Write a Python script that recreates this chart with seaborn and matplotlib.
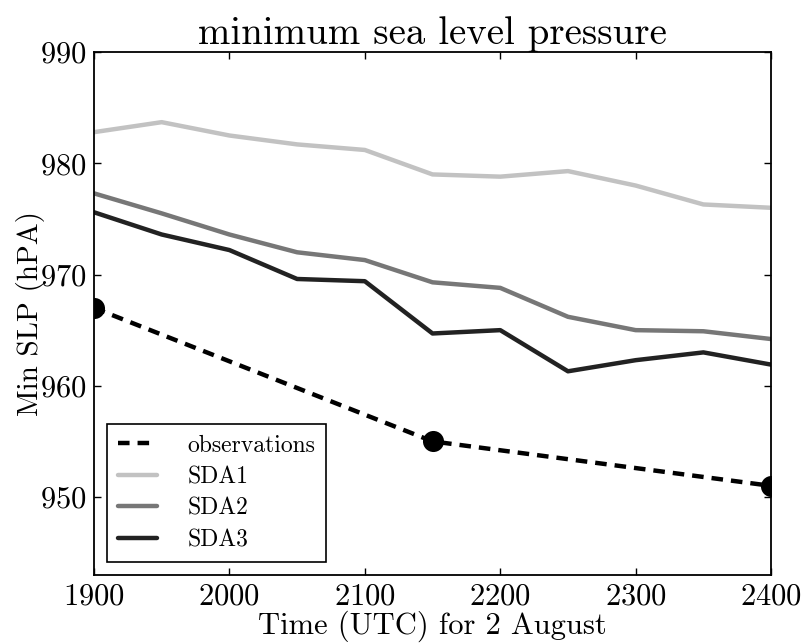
import matplotlib
matplotlib.use("Agg")
import matplotlib.pyplot as plt
import seaborn as sns
import pandas as pd

# Model run times (UTC, 2 August) and minimum sea level pressure (hPa)
times = [1900, 1950, 2000, 2050, 2100, 2150, 2200, 2250, 2300, 2350, 2400]
sda1 = [982.8, 983.7, 982.5, 981.7, 981.2, 979.0, 978.8, 979.3, 978.0, 976.3, 976.0]
sda2 = [977.3, 975.5, 973.6, 972.0, 971.3, 969.3, 968.8, 966.2, 965.0, 964.9, 964.2]
sda3 = [975.6, 973.6, 972.2, 969.6, 969.4, 964.7, 965.0, 961.3, 962.3, 963.0, 961.9]

obs_times = [1900, 2150, 2400]
obs_slp = [967.0, 955.0, 951.0]

x_ticks = [1900, 2000, 2100, 2200, 2300, 2400]
y_ticks = [950, 960, 970, 980, 990]

sns.set_theme(style="ticks")
plt.rcParams.update({
    "font.family": ["cmr10", "DejaVu Serif"],
    "mathtext.fontset": "cm",
    "axes.formatter.use_mathtext": True,
    "axes.linewidth": 1.3,
    "xtick.direction": "in",
    "ytick.direction": "in",
    "xtick.top": True,
    "ytick.right": True,
    "xtick.major.size": 5,
    "ytick.major.size": 5,
    "xtick.major.width": 1.0,
    "ytick.major.width": 1.0,
    "axes.edgecolor": "black",
    "axes.labelcolor": "black",
    "axes.titlecolor": "black",
    "text.color": "black",
    "xtick.color": "black",
    "ytick.color": "black",
})

fig, ax = plt.subplots(figsize=(8.1, 6.43), dpi=100)
fig.subplots_adjust(left=0.116, right=0.952, top=0.919, bottom=0.106)

obs = pd.DataFrame({"time": obs_times, "slp": obs_slp})
sns.lineplot(data=obs, x="time", y="slp", ax=ax, color="black", lw=3.2,
             linestyle=(0, (2.6, 1.8)), label="observations")
sns.scatterplot(data=obs, x="time", y="slp", ax=ax, color="black", s=230,
                edgecolor="black", linewidth=0, legend=False, zorder=5)

runs = pd.DataFrame({"time": times, "SDA1": sda1, "SDA2": sda2, "SDA3": sda3})
colors = {"SDA1": "#c2c2c2", "SDA2": "#777777", "SDA3": "#222222"}
for name in ["SDA1", "SDA2", "SDA3"]:
    sns.lineplot(data=runs, x="time", y=name, ax=ax, color=colors[name],
                 lw=3.2, label=name)

ax.set_xlim(1900, 2400)
ax.set_ylim(943, 990)
ax.set_xticks(x_ticks)
ax.set_yticks(y_ticks)
ax.tick_params(axis="x", labelsize=22, pad=6)
ax.tick_params(axis="y", labelsize=22, pad=5)

ax.set_title("minimum sea level pressure", fontsize=28, pad=3)
ax.set_xlabel("Time (UTC) for 2 August", fontsize=22, labelpad=0)
ax.set_ylabel("Min SLP (hPA)", fontsize=21, labelpad=-3)

leg = ax.legend(loc="lower left", fontsize=17, frameon=True, fancybox=False,
                edgecolor="black", framealpha=1, borderaxespad=0.55,
                handlelength=1.65, handletextpad=1.3, borderpad=0.45,
                labelspacing=0.4)
leg.get_frame().set_linewidth(1.2)

fig.savefig("out.png", dpi=100)
